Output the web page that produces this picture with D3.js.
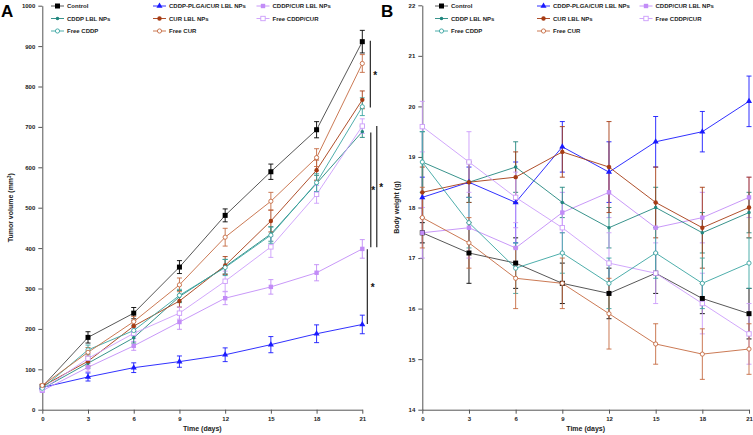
<!DOCTYPE html>
<html><head><meta charset="utf-8">
<script src="https://cdn.jsdelivr.net/npm/d3@7"></script>
<style>
body{margin:0;background:#fff;}
svg{display:block;font-family:"Liberation Sans",Arial,sans-serif;}
</style></head>
<body><svg id="c" width="753" height="435"></svg>
<script>
const days = [0, 3, 6, 9, 12, 15, 18, 21];
const seriesNames = ["Control", "CDDP-PLGA/CUR LBL NPs", "CDDP/CUR LBL NPs", "CDDP LBL NPs", "CUR LBL NPs", "Free CDDP/CUR", "Free CDDP", "Free CUR"];
const seriesColors = ["#000000", "#1a1aff", "#c28cf7", "#22877f", "#a63c14", "#cc9dfa", "#3aa5a2", "#c56b42"];
const lineColors = ["#444444", "#1a1aff", "#c28cf7", "#22877f", "#a63c14", "#cc9dfa", "#3aa5a2", "#c56b42"];
const seriesMarkers = ["squareFill", "triangle", "squareFillSmall", "diamond", "circleFill", "squareOpen", "circleOpen", "circleOpen"];

// Panel A: tumor volume (mm3)
const volControl = [57, 179, 239, 353, 481, 589, 693, 911];
const volPLGA = [55, 81, 104, 119, 136, 161, 188, 211];
const volCddpCurLbl = [47, 105, 158, 217, 276, 304, 339, 398];
const volCddpLbl = [52, 115, 178, 280, 354, 435, 560, 688];
const volCurLbl = [58, 120, 207, 269, 357, 467, 593, 767];
const volFreeCddpCur = [50, 127, 189, 239, 318, 403, 533, 702];
const volFreeCddp = [53, 148, 196, 283, 352, 432, 562, 750];
const volFreeCur = [60, 142, 218, 309, 427, 516, 624, 857];
const volErr = [
  [5, 14, 14, 16, 16, 19, 20, 28],
  [4, 10, 12, 14, 17, 20, 22, 23],
  [4, 10, 11, 18, 16, 18, 20, 23],
  [4, 12, 13, 15, 18, 18, 20, 14],
  [4, 12, 13, 15, 22, 27, 25, 22],
  [4, 12, 13, 15, 25, 26, 22, 18],
  [4, 12, 13, 15, 20, 20, 22, 22],
  [4, 12, 13, 17, 22, 22, 22, 22]
];
const volTicks = [0, 100, 200, 300, 400, 500, 600, 700, 800, 900, 1000];

// Panel B: body weight (g)
const bwControl = [17.5, 17.1, 16.9, 16.5, 16.3, 16.7, 16.2, 15.9];
const bwPLGA = [18.2, 18.5, 18.1, 19.2, 18.7, 19.3, 19.5, 20.1];
const bwCddpCurLbl = [17.5, 17.6, 17.2, 17.9, 18.3, 17.6, 17.8, 18.2];
const bwCddpLbl = [18.9, 18.5, 18.8, 18.1, 17.6, 18.0, 17.5, 17.9];
const bwCurLbl = [18.3, 18.5, 18.6, 19.1, 18.8, 18.1, 17.6, 18.0];
const bwFreeCddpCur = [19.6, 18.9, 18.2, 17.6, 16.9, 16.7, 16.1, 15.5];
const bwFreeCddp = [18.9, 17.7, 16.8, 17.1, 16.5, 17.1, 16.5, 16.9];
const bwFreeCur = [17.8, 17.3, 16.6, 16.5, 15.9, 15.3, 15.1, 15.2];
const bwErr = [
  [0.2, 0.6, 0.5, 0.4, 0.5, 0.4, 0.3, 0.5],
  [0.4, 0.3, 0.8, 0.5, 0.6, 0.5, 0.4, 0.5],
  [0.5, 0.6, 0.4, 0.4, 0.5, 0.5, 0.5, 0.4],
  [0.6, 0.4, 0.5, 0.3, 0.4, 0.4, 0.4, 0.4],
  [0.5, 0.4, 0.5, 0.5, 0.9, 0.7, 0.8, 0.6],
  [0.5, 0.6, 0.5, 0.5, 0.6, 0.6, 0.6, 0.6],
  [0.6, 0.5, 0.5, 0.4, 0.5, 0.5, 0.5, 0.5],
  [0.6, 0.5, 0.6, 0.5, 0.7, 0.4, 0.5, 0.5]
];
const bwTicks = [14, 15, 16, 17, 18, 19, 20, 21, 22];

// significance brackets in panel A (value ranges at day 21)
const sigBrackets = [
  {from: 913, to: 748, off: 8, starOff: 13},
  {from: 686, to: 402, off: 8.5, starOff: 11},
  {from: 702, to: 402, off: 14.5, starOff: 19},
  {from: 397, to: 212, off: 5, starOff: 10.5}
];

const volSeries = [volControl, volPLGA, volCddpCurLbl, volCddpLbl, volCurLbl, volFreeCddpCur, volFreeCddp, volFreeCur];
const bwSeries = [bwControl, bwPLGA, bwCddpCurLbl, bwCddpLbl, bwCurLbl, bwFreeCddpCur, bwFreeCddp, bwFreeCur];

const svg = d3.select("#c");

function drawMarker(g, type, x, y, color) {
  switch (type) {
    case "squareFill": g.append("rect").attr("x", x-2.5).attr("y", y-2.5).attr("width", 5).attr("height", 5).attr("fill", color); break;
    case "squareFillSmall": g.append("rect").attr("x", x-2.2).attr("y", y-2.2).attr("width", 4.4).attr("height", 4.4).attr("fill", color); break;
    case "squareOpen": g.append("rect").attr("x", x-2.2).attr("y", y-2.2).attr("width", 4.4).attr("height", 4.4).attr("fill", "#fff").attr("stroke", color).attr("stroke-width", 0.9); break;
    case "triangle": g.append("path").attr("d", d3.symbol(d3.symbolTriangle, 16)()).attr("transform", `translate(${x},${y})`).attr("fill", color); break;
    case "diamond": g.append("path").attr("d", d3.symbol(d3.symbolCircle, 10)()).attr("transform", `translate(${x},${y})`).attr("fill", color); break;
    case "circleFill": g.append("circle").attr("cx", x).attr("cy", y).attr("r", 2.2).attr("fill", color); break;
    case "circleOpen": g.append("circle").attr("cx", x).attr("cy", y).attr("r", 2.1).attr("fill", "#fff").attr("stroke", color).attr("stroke-width", 0.9); break;
  }
}

function panel(opts) {
  const {x0, x1, y0, y1, domain, ticks, series, errs, title, letter, letterX, legendCols, legendTextOff, titleX} = opts;
  const x = d3.scaleLinear().domain([0, 21]).range([x0, x1]);
  const y = d3.scaleLinear().domain(domain).range([y1, y0]);
  const g = svg.append("g");

  const ax = g.append("g").attr("transform", `translate(0,${y1})`)
    .call(d3.axisBottom(x).tickValues(days).tickFormat(d3.format("d")).tickSize(4).tickPadding(3).tickSizeOuter(0));
  const ay = g.append("g").attr("transform", `translate(${x0},0)`)
    .call(d3.axisLeft(y).tickValues(ticks).tickFormat(d3.format("d")).tickSize(4).tickPadding(3).tickSizeOuter(0));
  [ax, ay].forEach(a => {
    a.select(".domain").attr("stroke", "#555").attr("stroke-width", 1);
    a.selectAll(".tick line").attr("stroke", "#555");
    a.selectAll("text").attr("font-size", 6).attr("font-weight", "bold").attr("fill", "#222");
  });

  g.append("text").attr("x", (x0 + x1) / 2).attr("y", 431).attr("text-anchor", "middle")
    .attr("font-size", 7).attr("font-weight", "bold").attr("fill", "#222").text("Time (days)");
  const yt = g.append("text").attr("transform", `translate(${titleX},${(y0 + y1) / 2}) rotate(-90)`)
    .attr("text-anchor", "middle").attr("font-size", 7).attr("font-weight", "bold").attr("fill", "#222");
  yt.call(title);

  g.append("text").attr("x", letterX).attr("y", 17).attr("font-size", 17).attr("font-weight", "bold").text(letter);

  series.forEach((vals, i) => {
    const sg = g.append("g");
    const col = seriesColors[i];
    sg.append("path").datum(vals.map((v, k) => [days[k], v]))
      .attr("fill", "none").attr("stroke", lineColors[i]).attr("stroke-width", 0.9)
      .attr("d", d3.line().x(d => x(d[0])).y(d => y(d[1])));
    vals.forEach((v, k) => {
      const e = errs[i][k];
      const cx = x(days[k]);
      sg.append("line").attr("x1", cx).attr("x2", cx).attr("y1", y(v - e)).attr("y2", y(v + e)).attr("stroke", col).attr("stroke-width", 0.9);
      [v - e, v + e].forEach(t => sg.append("line").attr("x1", cx - 2.5).attr("x2", cx + 2.5).attr("y1", y(t)).attr("y2", y(t)).attr("stroke", col).attr("stroke-width", 0.9));
    });
  });
  series.forEach((vals, i) => {
    const mg = g.append("g");
    vals.forEach((v, k) => drawMarker(mg, seriesMarkers[i], x(days[k]), y(v), seriesColors[i]));
  });

  const rows = [6, 18.5, 31];
  seriesNames.forEach((name, i) => {
    const col = i % 3, row = Math.floor(i / 3);
    const lx = legendCols[col], ly = rows[row];
    const lg = g.append("g");
    lg.append("line").attr("x1", lx).attr("x2", lx + 13).attr("y1", ly).attr("y2", ly).attr("stroke", lineColors[i]).attr("stroke-width", 0.9);
    drawMarker(lg, seriesMarkers[i], lx + 6.5, ly, seriesColors[i]);
    lg.append("text").attr("x", lx + legendTextOff).attr("y", ly + 2.1).attr("font-size", 6).attr("font-weight", "bold").attr("fill", "#222").text(name);
  });
  return {x, y, g};
}

const A = panel({
  x0: 42.3, x1: 362.3, y0: 5.7, y1: 409.7, domain: [0, 1000], ticks: volTicks,
  series: volSeries, errs: volErr, letter: "A", letterX: 1, titleX: 13,
  legendCols: [51, 153, 256.5], legendTextOff: 16,
  title: t => { t.append("tspan").text("Tumor volume (mm"); t.append("tspan").attr("font-size", 4.5).attr("dy", -2.5).text("3"); t.append("tspan").attr("dy", 2.5).text(")"); }
});
const B = panel({
  x0: 422.3, x1: 749, y0: 5.3, y1: 409.7, domain: [14, 22], ticks: bwTicks,
  series: bwSeries, errs: bwErr, letter: "B", letterX: 381, titleX: 399,
  legendCols: [435, 537, 639.5], legendTextOff: 16,
  title: t => t.text("Body weight (g)")
});

sigBrackets.forEach(b => {
  const bx = A.x(21) + b.off;
  A.g.append("line").attr("x1", bx).attr("x2", bx).attr("y1", A.y(b.from)).attr("y2", A.y(b.to)).attr("stroke", "#111").attr("stroke-width", 1.1);
  A.g.append("text").attr("x", A.x(21) + b.starOff).attr("y", (A.y(b.from) + A.y(b.to)) / 2 + 4.5)
    .attr("text-anchor", "middle").attr("font-size", 10).attr("font-weight", "bold").attr("fill", "#111").text("*");
});
</script></body></html>
